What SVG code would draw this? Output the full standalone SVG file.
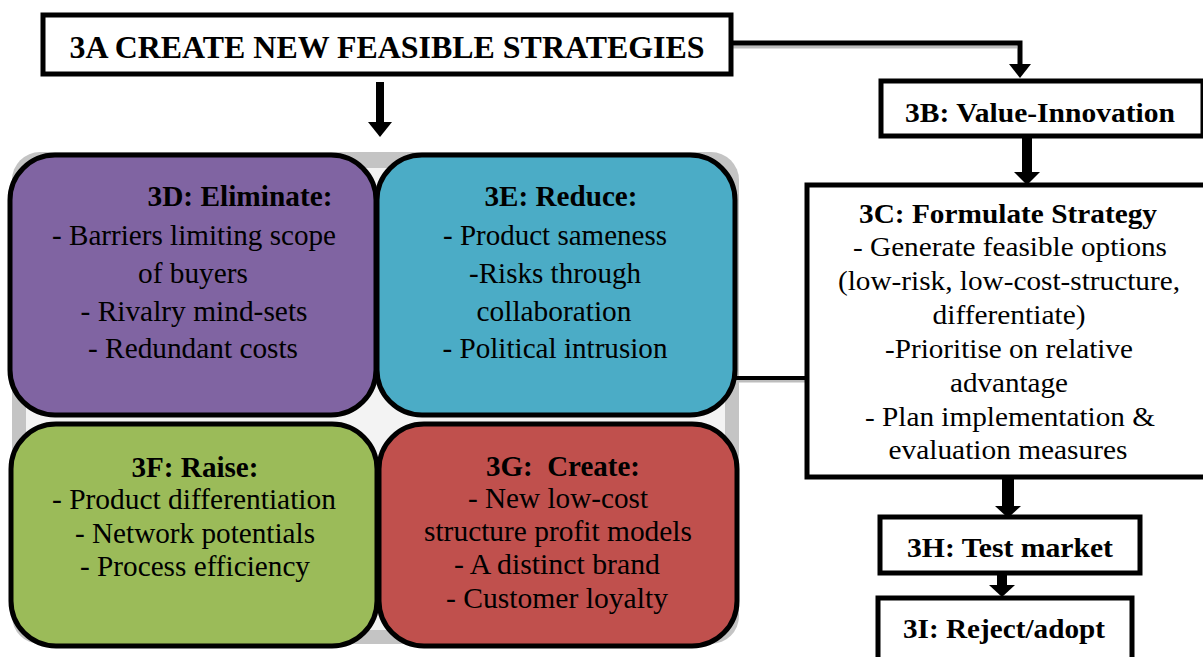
<svg xmlns="http://www.w3.org/2000/svg" width="1203" height="657" viewBox="0 0 1203 657">
<style>
.box{fill:#fff;stroke:#000;stroke-width:5}
.q{stroke:#000;stroke-width:5}
.t{fill:#000;text-anchor:middle}
.b{font-weight:bold}
.qt{font-size:29px}
.ct{font-size:27px}
.con{fill:#000}
</style>

<rect x="12" y="152" width="727" height="492" rx="28" fill="#c4c4c4"/>
<rect x="26" y="168" width="699" height="462" rx="20" fill="#f3f3f3"/>

<g id="connectors">
<path d="M733 47 H1017" fill="none" stroke="#bdbdbd" stroke-width="3"/>
<path d="M731 43 H1020 V66" fill="none" stroke="#000" stroke-width="5"/>
<polygon class="con" points="1009,64 1031,64 1020,78"/>
<rect class="con" x="376" y="82" width="8" height="41"/>
<polygon class="con" points="368,122 392,122 380,137"/>
<rect class="con" x="1022" y="137" width="10" height="36"/>
<polygon class="con" points="1014,172 1040,172 1027,185"/>
<path d="M806 381 H737" stroke="#bdbdbd" stroke-width="3"/>
<path d="M806 378 H735" stroke="#000" stroke-width="4"/>
<rect class="con" x="1002" y="477" width="12" height="30"/>
<polygon class="con" points="995,506 1021,506 1008,518"/>
<rect class="con" x="997" y="573" width="10" height="13"/>
<polygon class="con" points="989,585 1015,585 1002,597"/>
</g>

<g id="n3A">
<rect class="box" x="43" y="15" width="688" height="59"/>
<text class="t b" font-family="Liberation Serif, serif" x="387" y="58" font-size="32" textLength="635" lengthAdjust="spacingAndGlyphs">3A CREATE NEW FEASIBLE STRATEGIES</text>
</g>

<g id="n3B">
<rect class="box" x="881" y="81" width="322" height="55"/>
<text class="t b" font-family="Liberation Serif, serif" x="1040" y="122" font-size="28" textLength="270" lengthAdjust="spacingAndGlyphs">3B: Value-Innovation</text>
</g>

<g id="n3C">
<rect class="box" x="807" y="185" width="400" height="292"/>
<text class="t b ct" font-family="Liberation Serif, serif" x="1008" y="223" textLength="298" lengthAdjust="spacingAndGlyphs">3C: Formulate Strategy</text>
<text class="t ct" font-family="Liberation Serif, serif" x="1010" y="256" textLength="314" lengthAdjust="spacingAndGlyphs">- Generate feasible options</text>
<text class="t ct" font-family="Liberation Serif, serif" x="1009" y="290" textLength="342" lengthAdjust="spacingAndGlyphs">(low-risk, low-cost-structure,</text>
<text class="t ct" font-family="Liberation Serif, serif" x="1009" y="324" textLength="153" lengthAdjust="spacingAndGlyphs">differentiate)</text>
<text class="t ct" font-family="Liberation Serif, serif" x="1009" y="358" textLength="248" lengthAdjust="spacingAndGlyphs">-Prioritise on relative</text>
<text class="t ct" font-family="Liberation Serif, serif" x="1009" y="392" textLength="118" lengthAdjust="spacingAndGlyphs">advantage</text>
<text class="t ct" font-family="Liberation Serif, serif" x="1010" y="426" textLength="290" lengthAdjust="spacingAndGlyphs">- Plan implementation &amp;</text>
<text class="t ct" font-family="Liberation Serif, serif" x="1008" y="459" textLength="239" lengthAdjust="spacingAndGlyphs">evaluation measures</text>
</g>

<g id="n3H">
<rect class="box" x="880" y="517" width="260" height="56"/>
<text class="t b" font-family="Liberation Serif, serif" x="1010" y="557" font-size="28" textLength="206" lengthAdjust="spacingAndGlyphs">3H: Test market</text>
</g>

<g id="n3I">
<rect class="box" x="878" y="598" width="254" height="70"/>
<text class="t b" font-family="Liberation Serif, serif" x="1004" y="638" font-size="28" textLength="202" lengthAdjust="spacingAndGlyphs">3I: Reject/adopt</text>
</g>

<g id="n3D">
<rect class="q" x="10" y="155" width="366" height="260" rx="45" fill="#8064A2"/>
<text class="t b qt" font-family="Liberation Serif, serif" x="240" y="206" textLength="185" lengthAdjust="spacingAndGlyphs">3D: Eliminate:</text>
<text class="t qt" font-family="Liberation Serif, serif" x="194" y="245" textLength="284" lengthAdjust="spacingAndGlyphs">- Barriers limiting scope</text>
<text class="t qt" font-family="Liberation Serif, serif" x="193" y="283" textLength="110" lengthAdjust="spacingAndGlyphs">of buyers</text>
<text class="t qt" font-family="Liberation Serif, serif" x="194" y="321" textLength="227" lengthAdjust="spacingAndGlyphs">- Rivalry mind-sets</text>
<text class="t qt" font-family="Liberation Serif, serif" x="193" y="358" textLength="210" lengthAdjust="spacingAndGlyphs">- Redundant costs</text>
</g>

<g id="n3E">
<rect class="q" x="377" y="155" width="358" height="260" rx="45" fill="#4BACC6"/>
<text class="t b qt" font-family="Liberation Serif, serif" x="561" y="206" textLength="153" lengthAdjust="spacingAndGlyphs">3E: Reduce:</text>
<text class="t qt" font-family="Liberation Serif, serif" x="555" y="245" textLength="224" lengthAdjust="spacingAndGlyphs">- Product sameness</text>
<text class="t qt" font-family="Liberation Serif, serif" x="555" y="283" textLength="172" lengthAdjust="spacingAndGlyphs">-Risks through</text>
<text class="t qt" font-family="Liberation Serif, serif" x="554" y="321" textLength="155" lengthAdjust="spacingAndGlyphs">collaboration</text>
<text class="t qt" font-family="Liberation Serif, serif" x="555" y="358" textLength="225" lengthAdjust="spacingAndGlyphs">- Political intrusion</text>
</g>

<g id="n3F">
<rect class="q" x="11" y="424" width="366" height="222" rx="45" fill="#9BBB59"/>
<text class="t b qt" font-family="Liberation Serif, serif" x="195" y="477" textLength="127" lengthAdjust="spacingAndGlyphs">3F: Raise:</text>
<text class="t qt" font-family="Liberation Serif, serif" x="194" y="509" textLength="284" lengthAdjust="spacingAndGlyphs">- Product differentiation</text>
<text class="t qt" font-family="Liberation Serif, serif" x="195" y="543" textLength="240" lengthAdjust="spacingAndGlyphs">- Network potentials</text>
<text class="t qt" font-family="Liberation Serif, serif" x="195" y="576" textLength="230" lengthAdjust="spacingAndGlyphs">- Process efficiency</text>
</g>

<g id="n3G">
<rect class="q" x="379" y="424" width="358" height="222" rx="45" fill="#C0504D"/>
<text class="t b qt" font-family="Liberation Serif, serif" x="563" y="476" textLength="154" lengthAdjust="spacingAndGlyphs">3G:&#160; Create:</text>
<text class="t qt" font-family="Liberation Serif, serif" x="558" y="508" textLength="180" lengthAdjust="spacingAndGlyphs">- New low-cost</text>
<text class="t qt" font-family="Liberation Serif, serif" x="558" y="541" textLength="268" lengthAdjust="spacingAndGlyphs">structure profit models</text>
<text class="t qt" font-family="Liberation Serif, serif" x="557" y="574" textLength="206" lengthAdjust="spacingAndGlyphs">- A distinct brand</text>
<text class="t qt" font-family="Liberation Serif, serif" x="557" y="608" textLength="222" lengthAdjust="spacingAndGlyphs">- Customer loyalty</text>
</g>
</svg>
